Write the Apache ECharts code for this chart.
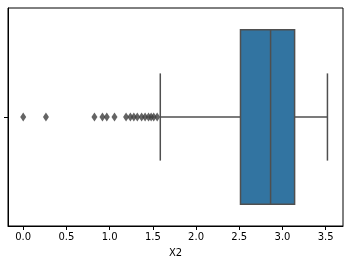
<!DOCTYPE html>
<html><head><meta charset="utf-8">
<script src="https://cdn.jsdelivr.net/npm/echarts@6/dist/echarts.min.js"></script>
<style>html,body{margin:0;padding:0;background:#fff}#c{width:360px;height:266px}</style>
</head><body><div id="c"></div>
<script>
var categories = [''];
// [whiskerLow, Q1, median, Q3, whiskerHigh]
var boxStats = [1.586, 2.514, 2.862, 3.14, 3.52];
var outliers = [0.0, 0.263, 0.824, 0.917, 0.967, 1.056, 1.19, 1.24, 1.28, 1.32, 1.37, 1.41, 1.45, 1.48, 1.51, 1.55];
var xTicks = [0, 0.5, 1.0, 1.5, 2.0, 2.5, 3.0, 3.5];
var xLabel = 'X2';

var lineColor = '#4f4f4f';
var chart = echarts.init(document.getElementById('c'));
chart.setOption({
  animation: false,
  textStyle: {fontFamily: 'DejaVu Sans'},
  grid: {left: 8, right: 17, top: 8, bottom: 40, containLabel: false, outerBoundsMode: 'none',
    show: true, borderColor: '#000', borderWidth: 1, backgroundColor: 'transparent'},
  xAxis: {
    type: 'value', min: -0.176, max: 3.7, interval: 0.5,
    name: xLabel, nameLocation: 'middle', nameGap: 22,
    nameTextStyle: {fontSize: 10, color: '#000', fontFamily: 'DejaVu Sans'},
    axisLine: {show: true, onZero: false, lineStyle: {color: '#000', width: 1}},
    axisTick: {show: true, length: 4, lineStyle: {color: '#000'}, customValues: xTicks},
    axisLabel: {fontSize: 10, color: '#000', margin: 6, customValues: xTicks,
      formatter: function (v) { return v.toFixed(1); }},
    splitLine: {show: false}
  },
  yAxis: {
    type: 'category', data: categories, boundaryGap: true,
    axisLine: {show: true, onZero: false, lineStyle: {color: '#000'}},
    axisTick: {show: true, alignWithLabel: true, interval: 0, length: 4, lineStyle: {color: '#000'}},
    axisLabel: {show: false}
  },
  series: [
    {
      type: 'custom',
      data: [[0].concat(boxStats)],
      encode: {x: [1, 2, 3, 4, 5], y: 0},
      renderItem: function (params, api) {
        var cat = api.value(0);
        var lo = api.value(1), q1 = api.value(2), med = api.value(3), q3 = api.value(4), hi = api.value(5);
        var band = api.size([0, 1])[1];
        var c = api.coord([q1, cat]);
        var yc = c[1];
        var hb = band * 0.4, hc = band * 0.2;
        var xLo = api.coord([lo, cat])[0], xQ1 = c[0], xMed = api.coord([med, cat])[0],
            xQ3 = api.coord([q3, cat])[0], xHi = api.coord([hi, cat])[0];
        var ls = {stroke: lineColor, lineWidth: 1.5};
        return {type: 'group', children: [
          {type: 'line', shape: {x1: xLo, y1: yc, x2: xQ1, y2: yc}, style: ls},
          {type: 'line', shape: {x1: xQ3, y1: yc, x2: xHi, y2: yc}, style: ls},
          {type: 'line', shape: {x1: xLo, y1: yc - hc, x2: xLo, y2: yc + hc}, style: ls},
          {type: 'line', shape: {x1: xHi, y1: yc - hc, x2: xHi, y2: yc + hc}, style: ls},
          {type: 'rect', shape: {x: xQ1, y: yc - hb, width: xQ3 - xQ1, height: 2 * hb},
            style: {fill: '#3274a1', stroke: lineColor, lineWidth: 1.5}},
          {type: 'line', shape: {x1: xMed, y1: yc - hb, x2: xMed, y2: yc + hb}, style: ls}
        ]};
      },
      z: 2
    },
    {
      type: 'scatter',
      data: outliers.map(function (v) { return [v, 0]; }),
      symbol: 'diamond', symbolSize: [6, 9],
      itemStyle: {color: '#3d3d3d'},
      z: 3
    }
  ]
});
</script></body></html>
